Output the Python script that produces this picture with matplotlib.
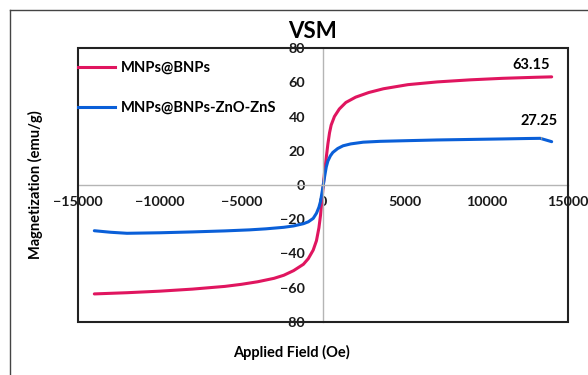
import matplotlib.pyplot as plt
from matplotlib.patches import Rectangle
from matplotlib.lines import Line2D

plt.rcParams['font.family'] = ['Lato', 'DejaVu Sans']
plt.rcParams['font.weight'] = 'bold'

# field (Oe) and magnetization (emu/g)
field_bnps = [-14000, -12000, -10000, -8000, -6000, -5000, -4000, -3000, -2400, -1800,
              -1200, -900, -600, -400, -250, -150, -80, 0, 100, 200, 300, 400, 500,
              700, 1000, 1400, 2000, 2800, 3700, 5200, 7000, 9000, 11000, 13000, 14000]
m_bnps = [-63.6, -62.9, -62.0, -60.8, -59.2, -58.0, -56.5, -54.5, -52.7, -50.0,
          -46.3, -43.0, -38.0, -32.5, -25.0, -17.5, -10.5, -2.0, 8.0, 16.0, 24.0, 30.5, 35.0,
          40.0, 44.4, 48.2, 51.3, 54.0, 56.2, 58.6, 60.2, 61.4, 62.3, 62.9, 63.15]

field_zns = [-14000, -13000, -12000, -10000, -8000, -6000, -4500, -3500, -2400, -1800,
             -1200, -900, -600, -400, -250, -150, -80, 0, 100, 200, 300, 450, 600,
             900, 1230, 1700, 2460, 3500, 5200, 7000, 9000, 11000, 12500, 13300, 14000]
m_zns = [-26.7, -27.6, -28.2, -27.9, -27.4, -26.8, -26.2, -25.6, -24.7, -23.9,
         -22.6, -21.5, -19.5, -16.5, -13.0, -9.5, -5.5, -1.0, 5.0, 10.5, 14.0, 17.0, 19.0,
         21.3, 22.9, 24.0, 25.0, 25.5, 25.9, 26.3, 26.6, 26.9, 27.15, 27.25, 25.3]

labels = ['MNPs@BNPs', 'MNPs@BNPs-ZnO-ZnS']
colors = ['#e0155f', '#0a5fd8']
x_ticks = [-15000, -10000, -5000, 0, 5000, 10000, 15000]
y_ticks = [-80, -60, -40, -20, 0, 20, 40, 60, 80]

fig = plt.figure(figsize=(5.88, 3.75), dpi=100)
ax = fig.add_axes([78 / 588, 53 / 375, 490 / 588, 274 / 375])

ax.plot(field_bnps, m_bnps, color=colors[0], lw=2.2, solid_capstyle='round',
        solid_joinstyle='round')
ax.plot(field_zns, m_zns, color=colors[1], lw=2.2, solid_capstyle='round',
        solid_joinstyle='round')

ax.set_xlim(-15000, 15000)
ax.set_ylim(-80, 80)
ax.set_xticks(x_ticks)
ax.set_yticks(y_ticks)
ax.tick_params(length=0, labelsize=10.3, colors='#1a1a1a')
ax.tick_params(axis='y', pad=13)
ax.tick_params(axis='x', pad=8)

# axes cross at the origin, box drawn around the plot area
for s in ['left', 'bottom']:
    ax.spines[s].set_position(('data', 0))
    ax.spines[s].set_color('#b5b5b5')
    ax.spines[s].set_linewidth(1)
ax.spines['top'].set_visible(False)
ax.spines['right'].set_visible(False)
ax.add_patch(Rectangle((0, 0), 1, 1, transform=ax.transAxes, fill=False,
                       ec='#222222', lw=1.5, clip_on=False, zorder=5))

ax.annotate('63.15', xy=(12770, 70.1), ha='center', va='center', fontsize=10.5)
ax.annotate('27.25', xy=(13390, 26.7), xytext=(13200, 37.5), ha='center', va='center',
            fontsize=10.5, arrowprops=dict(arrowstyle='-', color='#999999', lw=0.8,
                                           shrinkA=5, shrinkB=0))

handles = [Line2D([], [], color=c, lw=2.2) for c in colors]
ax.legend(handles, labels, loc='upper left', bbox_to_anchor=(0, 0.952), frameon=False,
          fontsize=10.6, handlelength=2.5, handletextpad=0.4, labelspacing=1.75,
          borderaxespad=0, borderpad=0)

fig.text(313 / 588, 1 - 31 / 375, 'VSM', ha='center', va='center', fontsize=16,
         fontweight='bold')
fig.text(291 / 588, 1 - 352 / 375, 'Applied Field (Oe)', ha='center', va='center',
         fontsize=10.5, fontweight='bold')
fig.text(35 / 588, 1 - 185 / 375, 'Magnetization (emu/g)', ha='center', va='center',
         rotation=90, fontsize=10.5, fontweight='bold')

# outer frame
fig.add_artist(Line2D([10 / 588, 1], [1 - 10 / 375] * 2, color='#444444', lw=1))
fig.add_artist(Line2D([10 / 588] * 2, [0, 1 - 10 / 375], color='#444444', lw=1))

fig.savefig('out.png', dpi=100)
